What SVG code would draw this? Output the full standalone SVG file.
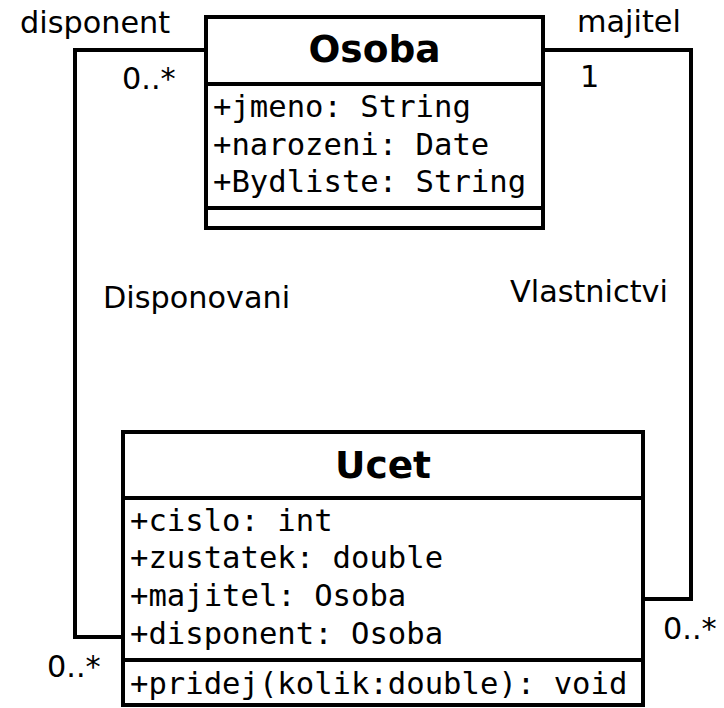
<svg xmlns="http://www.w3.org/2000/svg" width="724" height="708" viewBox="0 0 724 708">
<style>
.box{fill:#fff;stroke:#000;stroke-width:4}
.div{stroke:#000;stroke-width:4}
.conn{fill:none;stroke:#000;stroke-width:4}
.title{font-family:"DejaVu Sans",sans-serif;font-weight:bold;font-size:37.5px;text-anchor:middle;fill:#000}
.attr{font-family:"DejaVu Sans Mono",monospace;font-size:30.6px;fill:#000}
.lbl{font-family:"DejaVu Sans",sans-serif;font-size:30.3px;fill:#000}
</style>
<rect width="724" height="708" fill="#fff"/>
<g id="connectors">
<path class="conn" d="M206,50 H75 V637 H123"/>
<path class="conn" d="M543,50 H691 V599 H643"/>
<text class="lbl" x="20" y="33">disponent</text>
<text class="lbl" x="122" y="89">0..*</text>
<text class="lbl" x="577" y="32">majitel</text>
<text class="lbl" x="580" y="87">1</text>
<text class="lbl" x="103" y="308">Disponovani</text>
<text class="lbl" x="510" y="302">Vlastnictvi</text>
<text class="lbl" x="47" y="677">0..*</text>
<text class="lbl" x="663" y="639">0..*</text>
</g>
<g id="Osoba">
<rect class="box" x="206" y="17" width="337" height="211"/>
<line class="div" x1="206" y1="84" x2="543" y2="84"/>
<line class="div" x1="206" y1="208" x2="543" y2="208"/>
<text class="title" x="374.5" y="62">Osoba</text>
<text class="attr" x="213" y="117">+jmeno: String</text>
<text class="attr" x="213" y="155">+narozeni: Date</text>
<text class="attr" x="213" y="192">+Bydliste: String</text>
</g>
<g id="Ucet">
<rect class="box" x="123" y="432" width="520" height="273"/>
<line class="div" x1="123" y1="498" x2="643" y2="498"/>
<line class="div" x1="123" y1="660" x2="643" y2="660"/>
<text class="title" x="383" y="478">Ucet</text>
<text class="attr" x="130" y="531">+cislo: int</text>
<text class="attr" x="130" y="568">+zustatek: double</text>
<text class="attr" x="130" y="606">+majitel: Osoba</text>
<text class="attr" x="130" y="644">+disponent: Osoba</text>
<text class="attr" x="130" y="694">+pridej(kolik:double): void</text>
</g>
</svg>
